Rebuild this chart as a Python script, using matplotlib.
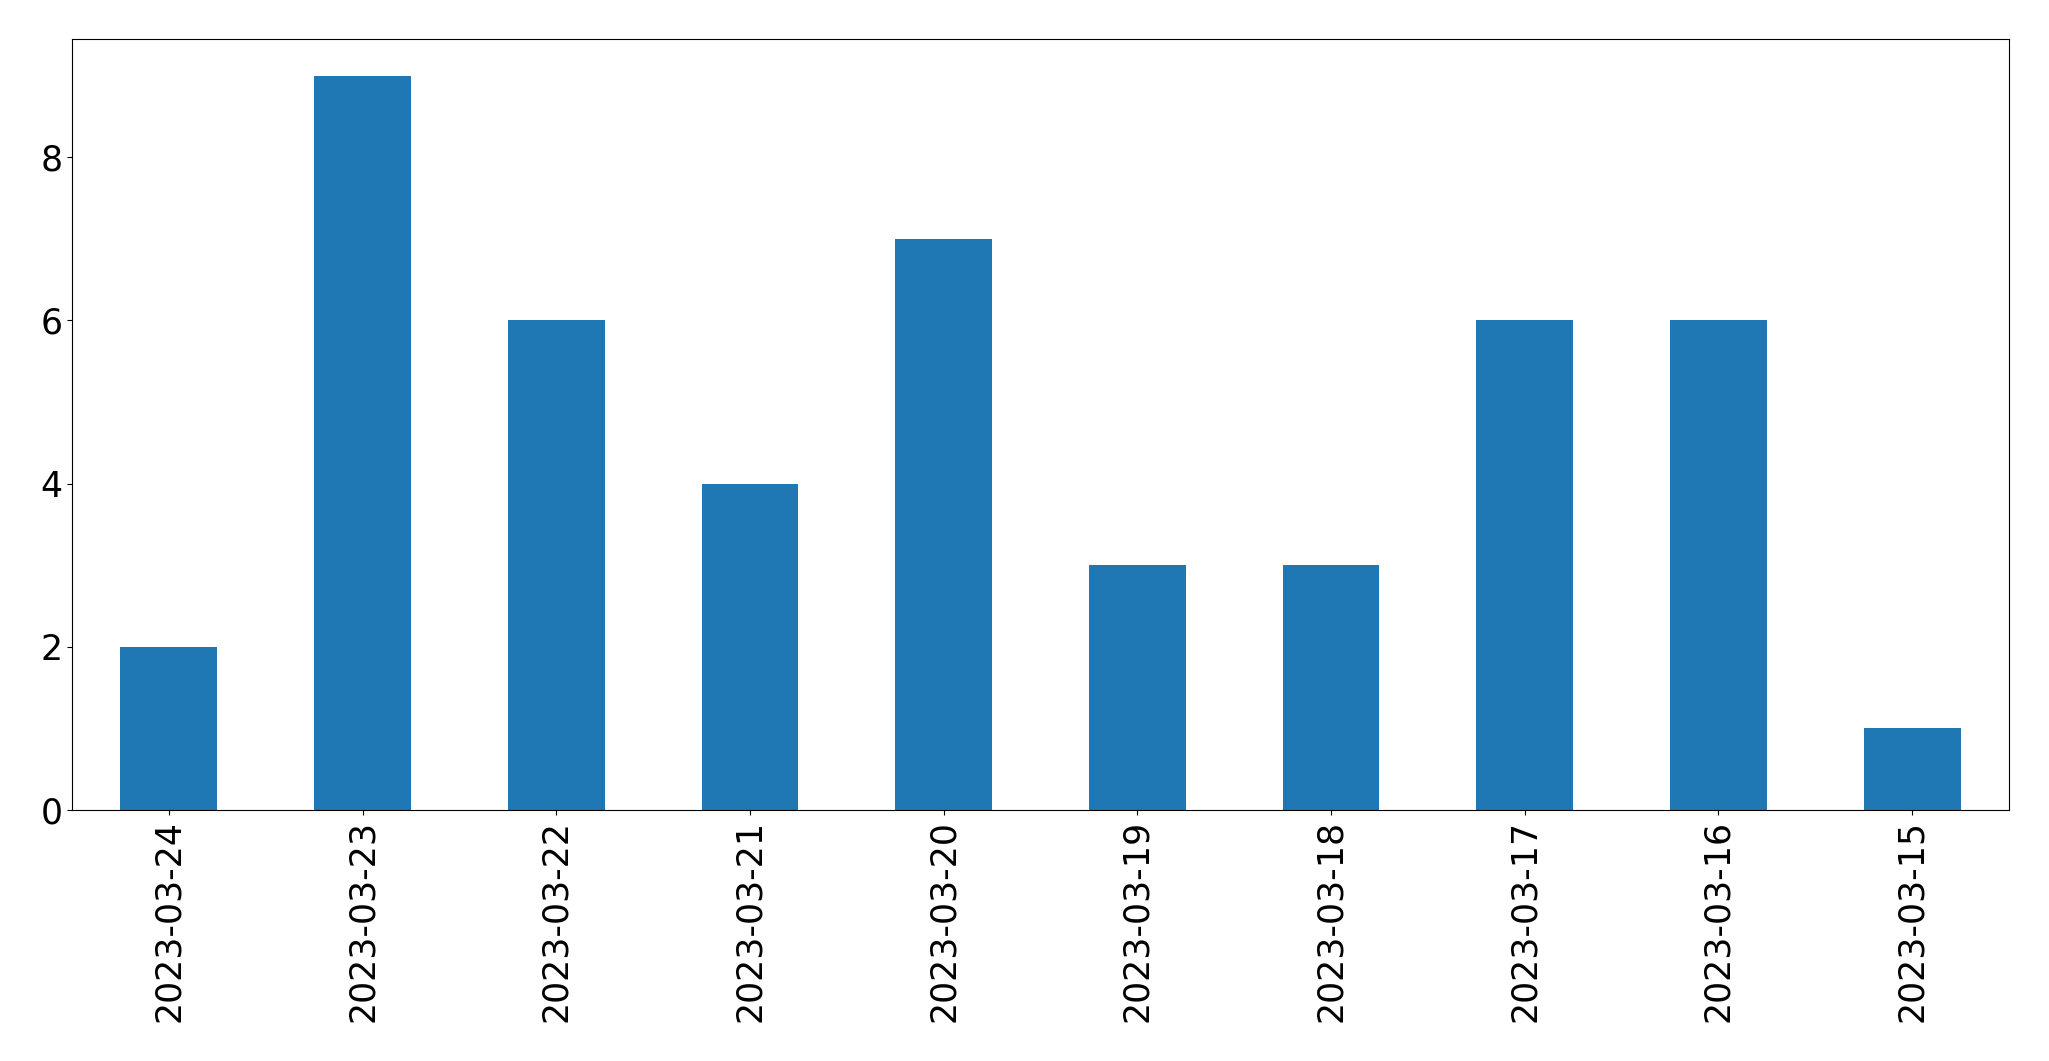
import matplotlib
matplotlib.use("Agg")
import matplotlib.pyplot as plt
import numpy as np

dates = ['2023-03-24', '2023-03-23', '2023-03-22', '2023-03-21', '2023-03-20',
         '2023-03-19', '2023-03-18', '2023-03-17', '2023-03-16', '2023-03-15']
counts = [2, 9, 6, 4, 7, 3, 3, 6, 6, 1]

fig = plt.figure(figsize=(20.49, 10.61), dpi=100, facecolor="w")
ax = fig.add_axes([72 / 2049, 1 - 810 / 1061, (2009 - 72) / 2049, (810 - 39) / 1061])

x = np.arange(len(dates))
ax.bar(x, counts, width=0.5, color='#1f77b4')
ax.set_xlim(-0.5, len(dates) - 0.5)
ax.set_ylim(0, max(counts) * 1.05)
ax.set_xticks(x)
ax.set_xticklabels(dates, rotation=90)
ax.set_yticks([0, 2, 4, 6, 8])
ax.tick_params(labelsize=25)

fig.savefig("out.png", dpi=100)
